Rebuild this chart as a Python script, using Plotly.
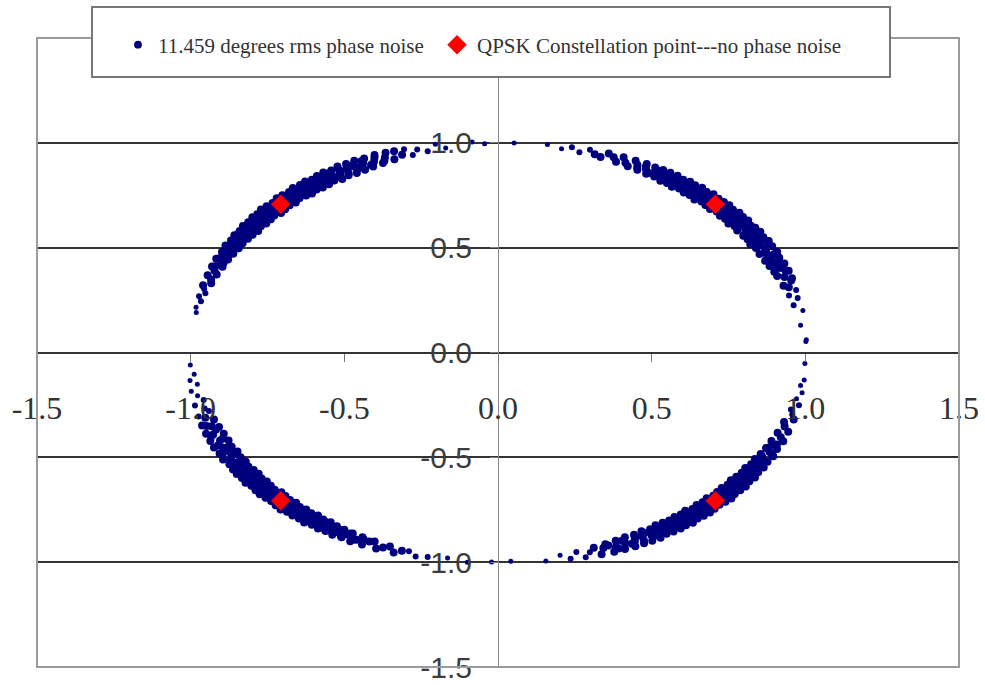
import math
import plotly.graph_objects as go

# ---------------- data ----------------
SERIES_NOISE = "11.459 degrees rms phase noise"
SERIES_QPSK = "QPSK Constellation point---no phase noise"

# ideal QPSK constellation points (I, Q)
QPSK_I = [0.7071, -0.7071, -0.7071, 0.7071]
QPSK_Q = [0.7071, 0.7071, -0.7071, -0.7071]

# nominal phase (degrees) of each constellation point
CENTER_DEG = [45, 135, 225, 315]

# phase-noise samples: phase offset (deg) from nominal, and magnitude, per quadrant
PHASE_Q1 = [-41.5, -37.5, -33.6, -31.8, -30.1, -29.0, -27.9, -26.8, -26.1, -25.2,
            -24.7, -23.9, -23.1, -22.6, -21.8, -21.3, -20.5, -20.0, -19.4, -18.7,
            -18.3, -17.6, -17.2, -16.5, -16.1, -15.4, -15.0, -14.3, -13.9, -13.4,
            -12.8, -12.5, -11.9, -11.4, -11.0, -10.5, -10.1, -9.6, -9.2, -8.7,
            -8.2, -7.9, -7.3, -6.9, -6.5, -6.0, -5.6, -5.1, -4.7, -4.2,
            -3.9, -3.3, -2.9, -2.5, -2.0, -1.6, -1.1, -0.7, -0.2, 0.3,
            0.6, 1.2, 1.5, 2.1, 2.4, 3.0, 3.4, 3.8, 4.4, 4.8,
            5.3, 5.7, 6.2, 6.6, 7.1, 7.5, 8.0, 8.5, 8.8, 9.4,
            9.8, 10.3, 10.8, 11.2, 11.8, 12.2, 12.7, 13.3, 13.8, 14.4,
            14.9, 15.5, 16.2, 16.7, 17.5, 18.1, 18.9, 19.6, 20.4, 21.3,
            22.1, 23.0, 24.2, 25.3, 26.6, 27.8, 29.5, 31.2, 33.0, 35.8, 42.0,
            -22.3, -21.0, -19.7, -18.5, -17.4, -16.3, -15.2, -14.1, -13.1, -12.2,
            -11.6, -10.7, -9.8, -9.4, -8.5, -7.6, -7.1, -6.2, -5.8, -5.3,
            -4.4, -4.0, -3.5, -3.1, -2.7, -2.2, -1.8, -1.3, -0.9, -0.4,
            0.1, 0.5, 0.9, 1.4, 1.8, 2.3, 2.7, 3.2, 3.6, 4.1,
            4.6, 5.0, 5.5, 6.0, 6.4, 6.9, 7.3, 7.8, 8.3, 9.1,
            9.6, 10.1, 10.6, 11.5, 12.0, 13.0, 14.1, 15.2, 16.5, 17.8]
MAG_Q1 = [1.005, 0.993, 1.012, 0.988, 1.009, 0.985, 1.015, 0.996, 0.982, 1.014,
          1.020, 0.999, 0.979, 1.023, 0.978, 1.003, 1.024, 0.975, 0.997, 1.021,
          0.973, 1.005, 1.027, 0.994, 0.972, 1.026, 1.002, 0.976, 1.029, 0.996,
          0.970, 1.024, 1.006, 0.975, 1.030, 0.999, 0.973, 1.027, 0.993, 1.021,
          0.972, 1.003, 1.029, 0.978, 0.996, 1.026, 0.970, 1.008, 1.030, 0.976,
          0.999, 1.024, 0.973, 1.005, 1.029, 0.979, 0.994, 1.027, 0.972, 1.002,
          1.026, 0.975, 0.997, 1.030, 0.978, 1.006, 1.023, 0.970, 0.996, 1.029,
          0.976, 1.003, 1.024, 0.973, 0.999, 1.027, 0.979, 1.005, 1.021, 0.972,
          0.994, 1.026, 0.978, 1.002, 1.024, 0.975, 0.997, 1.023, 0.981, 1.006,
          1.020, 0.979, 0.999, 1.021, 0.982, 1.003, 1.018, 0.984, 0.996, 1.017,
          0.987, 1.005, 1.015, 0.990, 0.997, 1.012, 0.991, 1.008, 0.994, 1.005, 1.000,
          1.014, 0.987, 1.011, 0.985, 1.015, 0.990, 1.009, 0.984, 1.014, 0.988,
          1.012, 0.985, 1.017, 0.991, 1.011, 0.984, 1.015, 0.987, 1.009, 0.988,
          1.014, 0.985, 1.012, 0.990, 1.017, 0.984, 1.011, 0.987, 1.015, 0.988,
          1.009, 0.985, 1.014, 0.990, 1.012, 0.984, 1.015, 0.987, 1.011, 0.991,
          1.014, 0.985, 1.009, 0.988, 1.017, 0.984, 1.012, 0.990, 1.011, 0.987,
          1.015, 0.988, 1.009, 0.985, 1.014, 0.990, 1.011, 0.987, 1.008, 0.991]

PHASE_Q2 = [-42.5, -40.2, -35.1, -33.4, -31.6, -29.8, -28.6, -27.5, -26.7, -25.6,
            -24.9, -24.0, -23.4, -22.5, -21.9, -21.1, -20.4, -19.8, -19.1, -18.6,
            -17.9, -17.3, -16.8, -16.2, -15.6, -15.1, -14.5, -14.0, -13.5, -13.0,
            -12.4, -12.0, -11.5, -11.0, -10.6, -10.0, -9.7, -9.1, -8.7, -8.3,
            -7.8, -7.4, -6.9, -6.4, -6.1, -5.5, -5.2, -4.6, -4.3, -3.7,
            -3.4, -2.8, -2.4, -1.9, -1.5, -1.0, -0.6, -0.1, 0.4, 0.8,
            1.3, 1.7, 2.2, 2.6, 3.1, 3.5, 4.0, 4.3, 4.9, 5.2,
            5.8, 6.1, 6.7, 7.0, 7.6, 8.0, 8.4, 9.0, 9.3, 9.9,
            10.4, 10.8, 11.3, 11.9, 12.3, 12.9, 13.4, 14.0, 14.5, 15.1,
            15.7, 16.3, 16.9, 17.6, 18.2, 19.0, 19.7, 20.5, 21.2, 22.0,
            22.9, 23.7, 24.6, 25.5, 26.5, 27.4, 28.5, 29.6, 30.8, 32.6, 34.0,
            -23.0, -21.6, -20.2, -19.0, -17.8, -16.6, -15.4, -14.3, -13.2, -12.2,
            -11.8, -10.8, -10.3, -9.4, -8.9, -8.0, -7.1, -6.6, -5.8, -4.9,
            -4.5, -4.0, -3.1, -2.6, -2.1, -1.2, -0.8, -0.3, 0.1, 0.6,
            1.0, 1.5, 1.9, 2.4, 2.8, 3.3, 3.8, 4.6, 5.5, 6.4,
            6.9, 7.3, 7.8, 8.7, 9.6, 10.1, 10.6, 11.1, 11.6, 12.6,
            13.2, 13.7, 14.8, 15.4, 16.0, 16.6, 17.3, 18.6, 19.4, 20.9]
MAG_Q2 = [0.997, 1.008, 0.990, 1.014, 0.987, 1.003, 0.982, 1.017, 0.994, 1.018,
          0.981, 1.021, 1.000, 0.978, 1.024, 0.996, 0.976, 1.023, 1.005, 0.973,
          1.027, 0.999, 0.972, 1.026, 1.006, 0.975, 1.029, 0.994, 0.970, 1.024,
          1.003, 0.978, 1.030, 0.997, 0.973, 1.027, 1.008, 0.972, 1.023, 0.996,
          0.976, 1.029, 1.002, 0.970, 1.026, 0.994, 0.975, 1.030, 1.005, 0.979,
          1.024, 0.997, 0.972, 1.027, 1.003, 0.976, 1.029, 0.996, 0.973, 1.023,
          1.006, 0.970, 1.026, 0.999, 0.978, 1.030, 0.994, 0.975, 1.024, 1.002,
          0.973, 1.027, 0.997, 0.979, 1.023, 1.005, 0.972, 1.026, 0.996, 0.976,
          1.021, 1.000, 0.978, 1.024, 0.994, 0.981, 1.020, 1.003, 0.979, 1.023,
          0.997, 0.982, 1.018, 1.005, 0.984, 1.020, 0.996, 0.985, 1.017, 1.002,
          0.988, 1.014, 0.996, 0.990, 1.012, 1.003, 0.993, 1.009, 0.997, 1.006, 1.000,
          0.987, 1.012, 0.985, 1.015, 0.990, 1.011, 0.984, 1.014, 0.988, 1.017,
          0.985, 1.009, 0.990, 1.014, 0.987, 1.012, 0.984, 1.015, 0.988, 1.011,
          0.985, 1.014, 0.991, 1.017, 0.984, 1.009, 0.987, 1.012, 0.990, 1.015,
          0.988, 1.011, 0.985, 1.014, 0.991, 1.017, 0.984, 1.012, 0.987, 1.009,
          0.990, 1.015, 0.985, 1.011, 0.988, 1.014, 0.984, 1.017, 0.987, 1.012,
          0.990, 1.009, 0.985, 1.014, 0.988, 1.011, 0.991, 1.012, 0.990, 1.008]

PHASE_Q3 = [-41.6, -39.0, -37.4, -36.2, -34.5, -33.1, -31.7, -30.6, -29.4, -28.5,
            -27.6, -26.9, -25.9, -25.1, -24.3, -23.6, -22.8, -22.1, -21.5, -20.7,
            -20.1, -19.4, -18.9, -18.1, -17.6, -17.0, -16.4, -15.9, -15.3, -14.7,
            -14.2, -13.6, -13.2, -12.6, -12.1, -11.7, -11.1, -10.7, -10.2, -9.8,
            -9.3, -8.8, -8.4, -7.9, -7.5, -7.0, -6.6, -6.1, -5.7, -5.2,
            -4.8, -4.3, -3.9, -3.4, -3.0, -2.5, -2.1, -1.6, -1.2, -0.7,
            -0.3, 0.2, 0.6, 1.1, 1.6, 2.0, 2.5, 2.9, 3.4, 3.8,
            4.3, 4.7, 5.2, 5.7, 6.1, 6.6, 7.1, 7.5, 8.0, 8.6,
            9.0, 9.5, 10.1, 10.5, 11.1, 11.6, 12.1, 12.7, 13.2, 13.8,
            14.4, 15.0, 15.6, 16.3, 16.9, 17.7, 18.4, 19.2, 20.1, 21.0,
            22.0, 23.1, 24.2, 25.4, 26.7, 28.0, 29.6, 31.8, 35.5, 39.3, 43.8,
            -24.7, -23.2, -21.8, -20.4, -19.1, -17.8, -16.7, -15.6, -14.5, -13.4,
            -12.9, -11.9, -11.4, -10.5, -10.0, -9.0, -8.6, -7.7, -7.2, -6.3,
            -5.9, -5.0, -4.5, -3.6, -3.2, -2.3, -1.8, -1.0, -0.5, 0.0,
            0.4, 0.9, 1.3, 1.8, 2.2, 2.7, 3.1, 3.6, 4.0, 4.5,
            5.0, 5.4, 5.9, 6.4, 6.8, 7.3, 7.8, 8.3, 8.8, 9.3,
            9.8, 10.3, 10.8, 11.4, 12.4, 13.5, 14.7, 15.9, 17.3, 18.8]
MAG_Q3 = [1.003, 0.994, 1.011, 0.990, 1.015, 0.999, 0.984, 1.018, 0.991, 0.981,
          1.021, 1.002, 0.978, 1.024, 0.996, 0.975, 1.026, 1.006, 0.973, 1.027,
          0.997, 0.972, 1.029, 1.003, 0.976, 1.026, 0.994, 0.970, 1.030, 1.005,
          0.975, 1.024, 0.999, 0.972, 1.027, 1.006, 0.978, 1.029, 0.996, 0.973,
          1.026, 1.002, 0.970, 1.030, 0.997, 0.976, 1.024, 1.005, 0.972, 1.027,
          0.994, 0.975, 1.029, 1.003, 0.978, 1.026, 0.999, 0.970, 1.023, 1.008,
          0.973, 1.027, 0.996, 0.976, 1.030, 1.002, 0.972, 1.024, 0.997, 0.979,
          1.026, 1.005, 0.975, 1.023, 0.994, 0.978, 1.027, 1.003, 0.973, 1.021,
          0.999, 0.979, 1.024, 1.006, 0.976, 1.020, 0.996, 0.981, 1.023, 1.002,
          0.982, 1.018, 0.997, 0.984, 1.021, 1.005, 0.985, 1.017, 0.994, 0.987,
          1.015, 1.003, 0.990, 1.012, 0.996, 0.991, 1.009, 1.002, 0.994, 1.005, 0.999,
          1.011, 0.988, 1.015, 0.985, 1.012, 0.990, 1.017, 0.984, 1.009, 0.987,
          1.014, 0.991, 1.011, 0.985, 1.015, 0.988, 1.012, 0.984, 1.017, 0.990,
          1.009, 0.987, 1.014, 0.985, 1.011, 0.991, 1.015, 0.988, 1.012, 0.984,
          1.017, 0.987, 1.009, 0.990, 1.014, 0.985, 1.011, 0.988, 1.015, 0.984,
          1.012, 0.991, 1.017, 0.987, 1.009, 0.985, 1.014, 0.990, 1.011, 0.988,
          1.015, 0.984, 1.012, 0.987, 1.009, 0.990, 1.014, 0.988, 1.008, 0.991]

PHASE_Q4 = [-42.6, -36.1, -33.2, -31.5, -30.0, -28.7, -27.6, -26.5, -25.7, -24.8,
            -24.1, -23.3, -22.5, -21.9, -21.2, -20.5, -19.9, -19.2, -18.6, -18.0,
            -17.4, -16.9, -16.3, -15.8, -15.2, -14.6, -14.1, -13.6, -13.1, -12.6,
            -12.1, -11.6, -11.2, -10.6, -10.2, -9.7, -9.3, -8.8, -8.4, -7.9,
            -7.4, -7.0, -6.5, -6.1, -5.6, -5.2, -4.7, -4.3, -3.8, -3.4,
            -2.9, -2.5, -2.0, -1.6, -1.1, -0.7, -0.2, 0.2, 0.7, 1.1,
            1.6, 2.0, 2.5, 2.9, 3.4, 3.8, 4.3, 4.8, 5.2, 5.7,
            6.2, 6.6, 7.1, 7.6, 8.1, 8.5, 9.1, 9.5, 10.0, 10.6,
            11.0, 11.6, 12.1, 12.6, 13.2, 13.7, 14.3, 14.9, 15.5, 16.1,
            16.8, 17.4, 18.1, 18.9, 19.6, 20.5, 21.3, 22.2, 23.2, 24.3,
            25.4, 26.6, 27.8, 29.1, 30.6, 32.2, 34.0, 35.9, 37.5, 42.0, 48.0,
            -23.7, -22.2, -20.8, -19.5, -18.3, -17.1, -16.0, -14.9, -13.8, -12.8,
            -12.3, -11.3, -10.9, -10.0, -9.5, -8.6, -8.1, -7.2, -6.7, -5.9,
            -5.4, -4.5, -4.0, -3.1, -2.7, -1.8, -1.3, -0.5, 0.0, 0.5,
            0.9, 1.4, 1.8, 2.3, 2.7, 3.2, 3.6, 4.1, 4.5, 5.0,
            5.5, 5.9, 6.4, 6.9, 7.4, 7.8, 8.3, 8.8, 9.3, 9.8,
            10.3, 10.8, 11.3, 11.9, 12.9, 14.0, 15.2, 16.4, 17.8, 19.2]
MAG_Q4 = [0.996, 1.006, 0.988, 1.012, 0.985, 1.017, 0.999, 0.982, 1.020, 0.993,
          0.979, 1.023, 1.003, 0.976, 1.024, 0.997, 0.973, 1.027, 1.002, 0.975,
          1.026, 0.994, 0.972, 1.029, 1.005, 0.978, 1.030, 0.996, 0.970, 1.024,
          1.008, 0.973, 1.027, 0.999, 0.976, 1.029, 1.003, 0.972, 1.026, 0.994,
          0.975, 1.030, 1.006, 0.970, 1.024, 0.997, 0.978, 1.027, 1.002, 0.973,
          1.029, 0.996, 0.976, 1.026, 1.005, 0.972, 1.023, 0.999, 0.979, 1.027,
          1.003, 0.975, 1.030, 0.994, 0.973, 1.024, 1.006, 0.978, 1.026, 0.997,
          0.972, 1.029, 1.002, 0.976, 1.023, 0.996, 0.979, 1.027, 1.005, 0.975,
          1.021, 0.999, 0.981, 1.024, 1.003, 0.978, 1.020, 0.994, 0.982, 1.023,
          1.002, 0.984, 1.018, 0.996, 0.985, 1.020, 1.005, 0.987, 1.017, 0.997,
          0.988, 1.014, 1.002, 0.991, 1.011, 0.996, 1.008, 0.997, 1.005, 1.000, 1.003,
          0.988, 1.014, 0.985, 1.011, 0.990, 1.015, 0.984, 1.012, 0.987, 1.009,
          0.991, 1.017, 0.985, 1.014, 0.988, 1.011, 0.984, 1.015, 0.990, 1.012,
          0.987, 1.009, 0.985, 1.017, 0.988, 1.014, 0.991, 1.011, 0.984, 1.015,
          0.987, 1.012, 0.990, 1.009, 0.985, 1.014, 0.988, 1.017, 0.984, 1.011,
          0.991, 1.015, 0.987, 1.012, 0.985, 1.009, 0.990, 1.014, 0.988, 1.017,
          0.984, 1.011, 0.987, 1.012, 0.990, 1.009, 0.985, 1.014, 0.991, 1.008]

X_TICKS = [-1.5, -1.0, -0.5, 0.0, 0.5, 1.0, 1.5]
X_LABELS = ["-1.5", "-1.0", "-0.5", "0.0", "0.5", "1.0", "1.5"]
Y_TICKS = [-1.5, -1.0, -0.5, 0.0, 0.5, 1.0, 1.5]
Y_LABELS = ["-1.5", "-1.0", "-0.5", "0.0", "0.5", "1.0", ""]

# ---------------- build ----------------
PHASES = [PHASE_Q1, PHASE_Q2, PHASE_Q3, PHASE_Q4]
MAGS = [MAG_Q1, MAG_Q2, MAG_Q3, MAG_Q4]

noise_x, noise_y, dot_size = [], [], []
for c, offs, mags in zip(CENTER_DEG, PHASES, MAGS):
    for o, m in zip(offs, mags):
        a = math.radians(c + o)
        noise_x.append(m * math.cos(a))
        noise_y.append(m * math.sin(a))
        # overlapping dots form a solid band in the dense core; sparse tail dots stay small
        dot_size.append(8 if abs(o) <= 27 else (6 if abs(o) <= 32 else 5))

fig = go.Figure()
fig.add_trace(go.Scatter(
    x=noise_x, y=noise_y, mode="markers", name=SERIES_NOISE, legend="legend",
    marker=dict(color="#00007f", size=dot_size, opacity=1, line=dict(width=0)),
))
fig.add_trace(go.Scatter(
    x=QPSK_I, y=QPSK_Q, mode="markers", name=SERIES_QPSK, legend="legend2",
    marker=dict(symbol="diamond", color="#ff0000", size=15, opacity=1, line=dict(width=0)),
))

W, H = 985, 685
ML, MR, MT, MB = 37, 26, 38, 18
PW, PH = W - ML - MR, H - MT - MB


def px_x(p):
    return (p - ML) / PW


def px_y(p):
    return (H - MB - p) / PH


LEG_FONT = dict(family="Liberation Serif", size=21, color="#333333")

fig.update_layout(
    width=W, height=H,
    margin=dict(l=ML, r=MR, t=MT, b=MB, pad=0),
    paper_bgcolor="white", plot_bgcolor="white",
    showlegend=True,
    legend=dict(
        orientation="h", x=px_x(118), y=px_y(45), xanchor="left", yanchor="middle",
        font=LEG_FONT, bgcolor="rgba(0,0,0,0)", borderwidth=0,
    ),
    legend2=dict(
        orientation="h", x=px_x(437), y=px_y(45), xanchor="left", yanchor="middle",
        font=LEG_FONT, bgcolor="rgba(0,0,0,0)", borderwidth=0,
    ),
    xaxis=dict(
        range=[-1.5, 1.5], anchor="free", position=0.5,
        tickmode="array", tickvals=X_TICKS, ticktext=X_LABELS,
        showgrid=False, zeroline=False,
        showline=True, linecolor="#333333", linewidth=2,
        ticks="outside", ticklen=8, tickwidth=1, tickcolor="#777777",
        tickfont=dict(family="Liberation Serif", size=32, color="#333333"),
        ticklabelstandoff=19,
        automargin=False,
    ),
    yaxis=dict(
        range=[-1.5, 1.5], anchor="free", position=0.5,
        tickmode="array", tickvals=Y_TICKS, ticktext=Y_LABELS,
        showgrid=True, gridcolor="#333333", gridwidth=2,
        zeroline=False,
        showline=True, linecolor="#888888", linewidth=1,
        ticks="outside", ticklen=8, tickwidth=1, tickcolor="#777777",
        tickfont=dict(family="Liberation Sans", size=30, color="#3c3c3c"),
        ticklabelstandoff=12,
        automargin=False,
    ),
    shapes=[
        # plot-area frame
        dict(type="rect", xref="paper", yref="paper", x0=0, x1=1, y0=0, y1=1,
             line=dict(color="#9a9a9a", width=2), fillcolor="rgba(0,0,0,0)", layer="above"),
        # legend box
        dict(type="rect", xref="paper", yref="paper",
             x0=px_x(92), x1=px_x(890), y0=px_y(77), y1=px_y(7),
             line=dict(color="#777777", width=2), fillcolor="white", layer="above"),
    ],
)

fig.write_html("out.html", config={"displayModeBar": False},
               post_script="document.body.style.margin='0';")
